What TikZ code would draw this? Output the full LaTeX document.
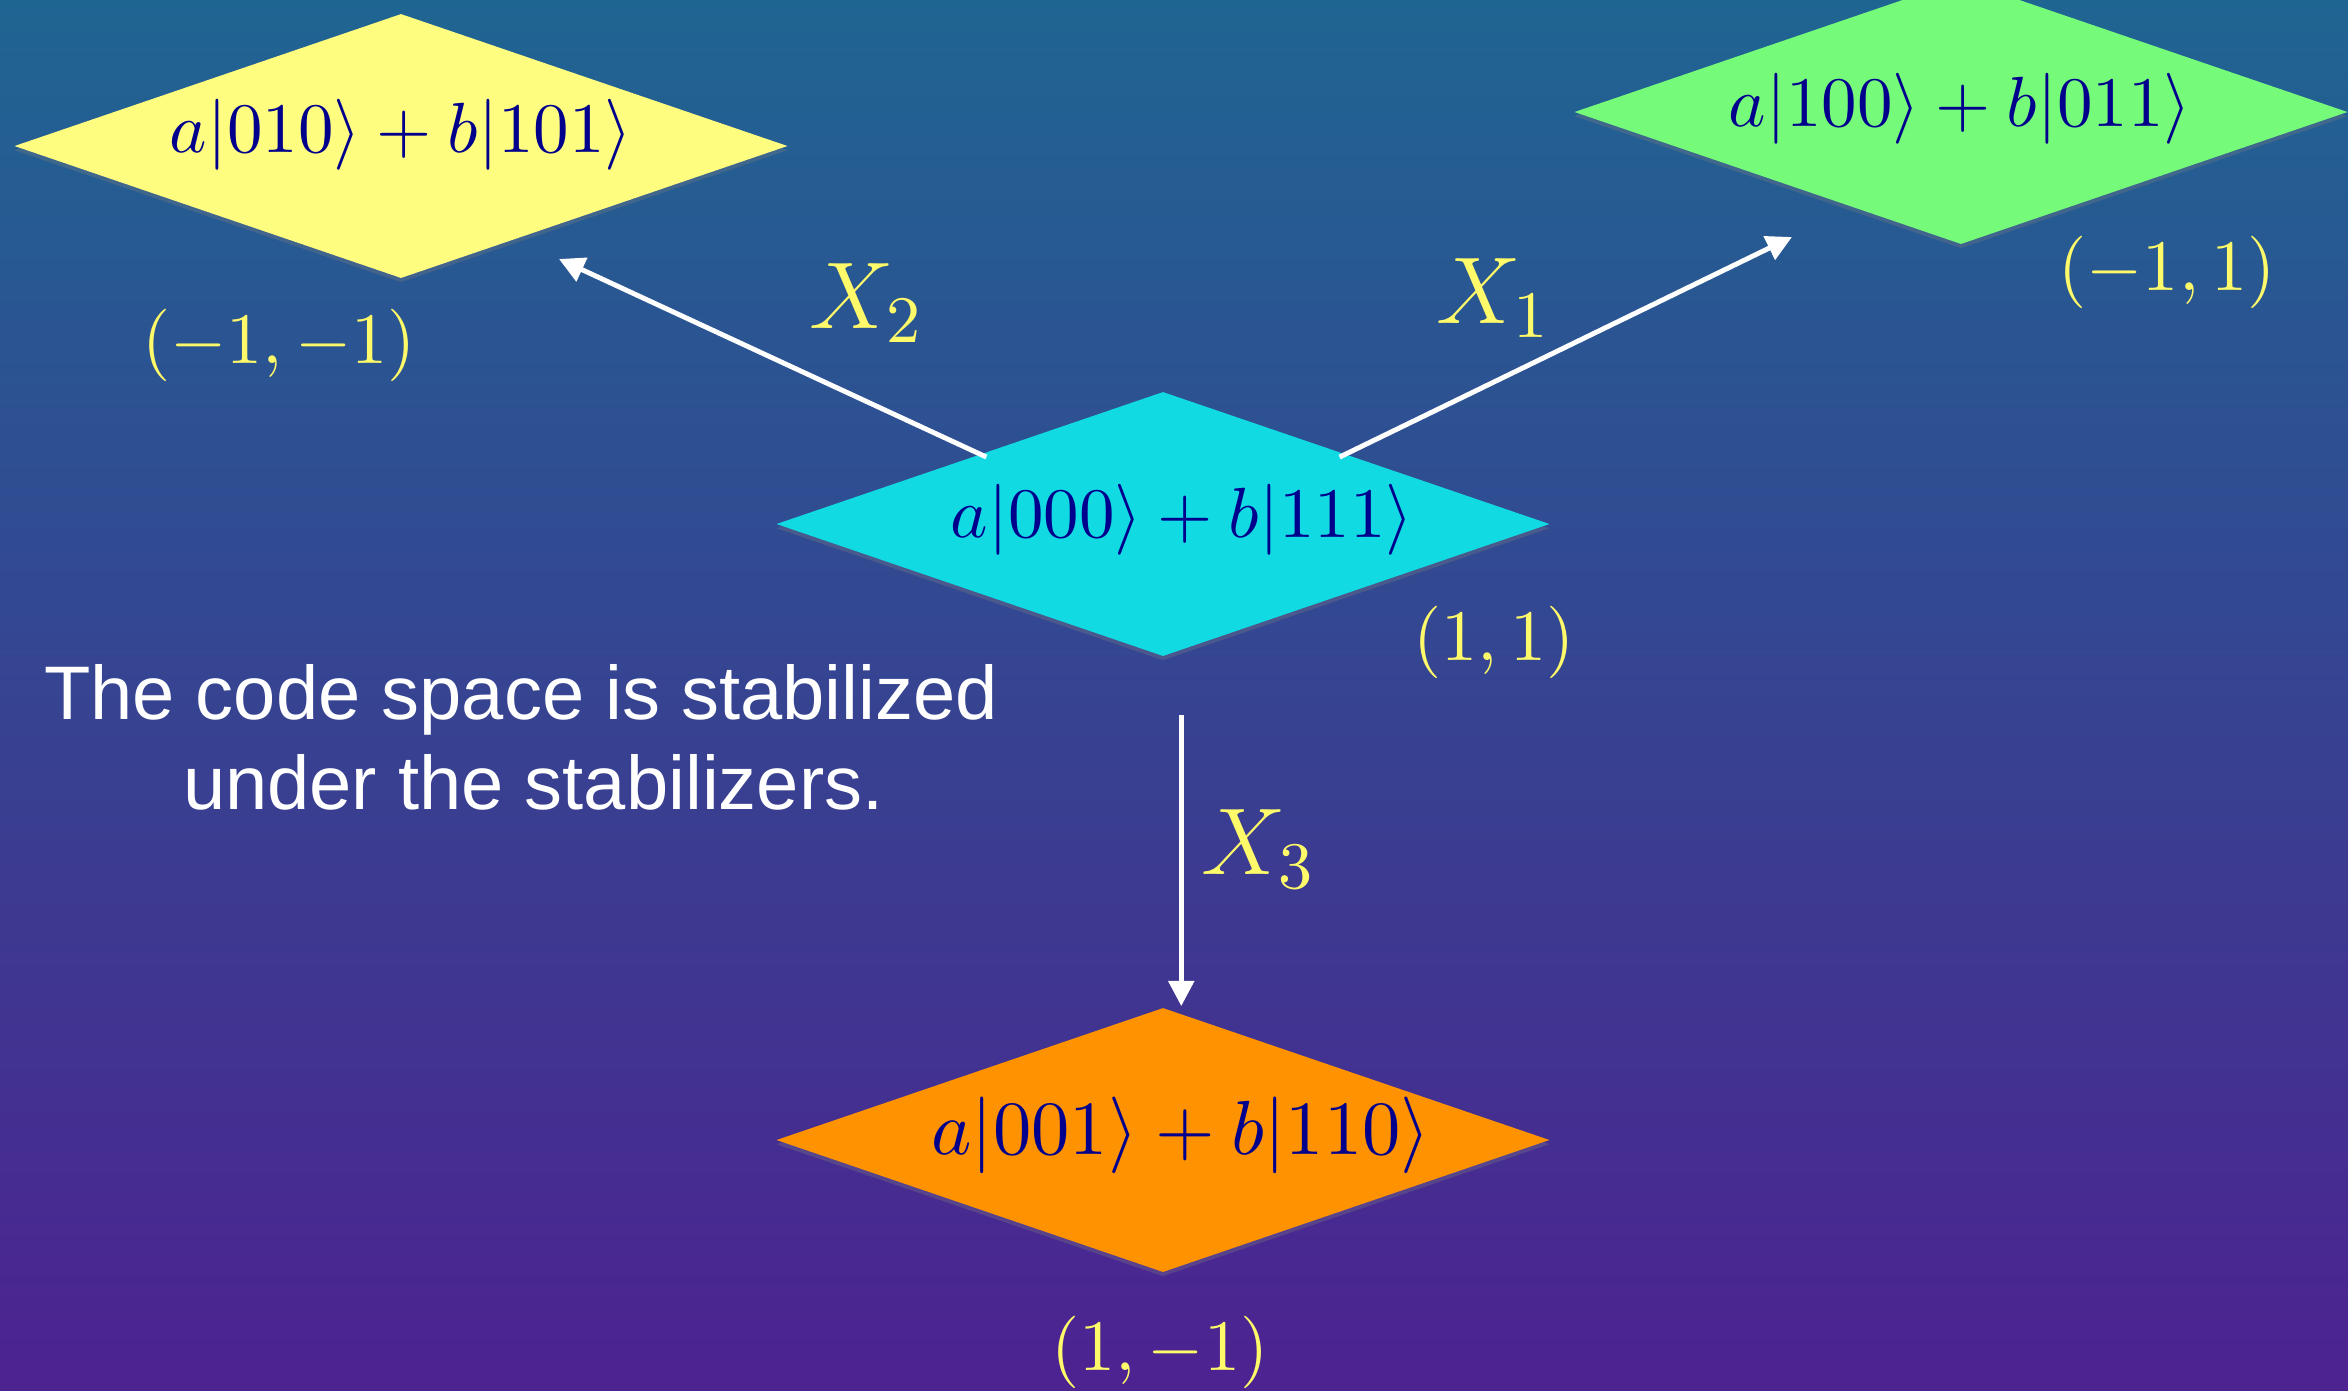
\RequirePackage{fix-cm}
\documentclass[tikz,border=0pt]{standalone}
\usepackage{fontspec}
\newfontfamily\bodyfont{Liberation Sans}
\usetikzlibrary{shapes.geometric,arrows.meta,shadows}
\definecolor{bgtop}{RGB}{31,101,146}
\definecolor{bgbot}{RGB}{77,34,145}
\definecolor{yel}{RGB}{255,253,128}
\definecolor{grn}{RGB}{118,250,122}
\definecolor{cyn}{RGB}{18,218,226}
\definecolor{org}{RGB}{255,146,0}
\definecolor{ketc}{RGB}{0,0,140}
\definecolor{lab}{RGB}{255,250,105}
\tikzset{
  state/.style={shape=diamond, draw=none, minimum width=110.1pt, minimum height=37.7pt, inner sep=0pt,
    drop shadow={opacity=0.3, shadow xshift=0pt, shadow yshift=-0.6pt}},
  ket/.style={text=ketc, inner sep=0pt, font=\fontsize{10.1}{12}\selectfont},
  coordlab/.style={text=lab, inner sep=0pt, font=\fontsize{10.3}{12}\selectfont},
  xlab/.style={text=lab, inner sep=0pt, font=\fontsize{13.5}{15}\selectfont},
  arr/.style={draw=white, line width=0.7pt, -{Triangle[length=3.6pt,width=3.6pt]}},
  body/.style={text=white, align=center, inner sep=0pt, font=\bodyfont\fontsize{10.8}{12.8}\selectfont}
}
\begin{document}
\begin{tikzpicture}[x=0.14225pt, y=-0.14225pt]
\useasboundingbox (0,0) rectangle (2348,1390);
\clip (0,0) rectangle (2348,1390);
\shade[top color=bgtop, bottom color=bgbot] (0,0) rectangle (2348,1390);

% diamonds
\node[state, fill=yel] (y) at (401,146) {};
\node[state, fill=grn] (g) at (1961,112) {};
\node[state, fill=cyn] (c) at (1163,524) {};
\node[state, fill=org] (o) at (1163,1140) {};

% kets
\node[ket] (yt) at (401,135) {$a|010\rangle+b|101\rangle$};
\node[ket] (gt) at (1960,109) {$a|100\rangle+b|011\rangle$};
\node[ket] (ct) at (1182,520) {$a|000\rangle+b|111\rangle$};
\node[ket, font=\fontsize{10.9}{13}\selectfont] (ot) at (1181,1135) {$a|001\rangle+b|110\rangle$};

% eigenvalue labels
\node[coordlab] (yl) at (279,345) {$(-1,-1)$};
\node[coordlab] (gl) at (2167,272) {$(-1,1)$};
\node[coordlab] (cl) at (1494,642) {$(1,1)$};
\node[coordlab] (ol) at (1160,1352) {$(1,-1)$};

% arrows
\coordinate (x2tip) at (559,259);
\coordinate (x1tip) at (1792,237);
\draw[arr] ([xshift=2.5pt]c.north west) -- (x2tip);
\draw[arr] ([xshift=-2.5pt]c.north east) -- (x1tip);
\draw[arr] ([xshift=2.6pt,yshift=-8.1pt]c.south) -- ([xshift=2.6pt]o.north);

% operator labels
\node[xlab] (x2) at (867,303) {$X_2$};
\node[xlab] (x1) at (1494,298) {$X_1$};
\node[xlab] (x3) at (1259,849) {$X_3$};

% text
\node[body] (txt) at (521,737) {The code space is stabilized\\\hspace*{3.5pt}under the stabilizers.};
\end{tikzpicture}
\end{document}
